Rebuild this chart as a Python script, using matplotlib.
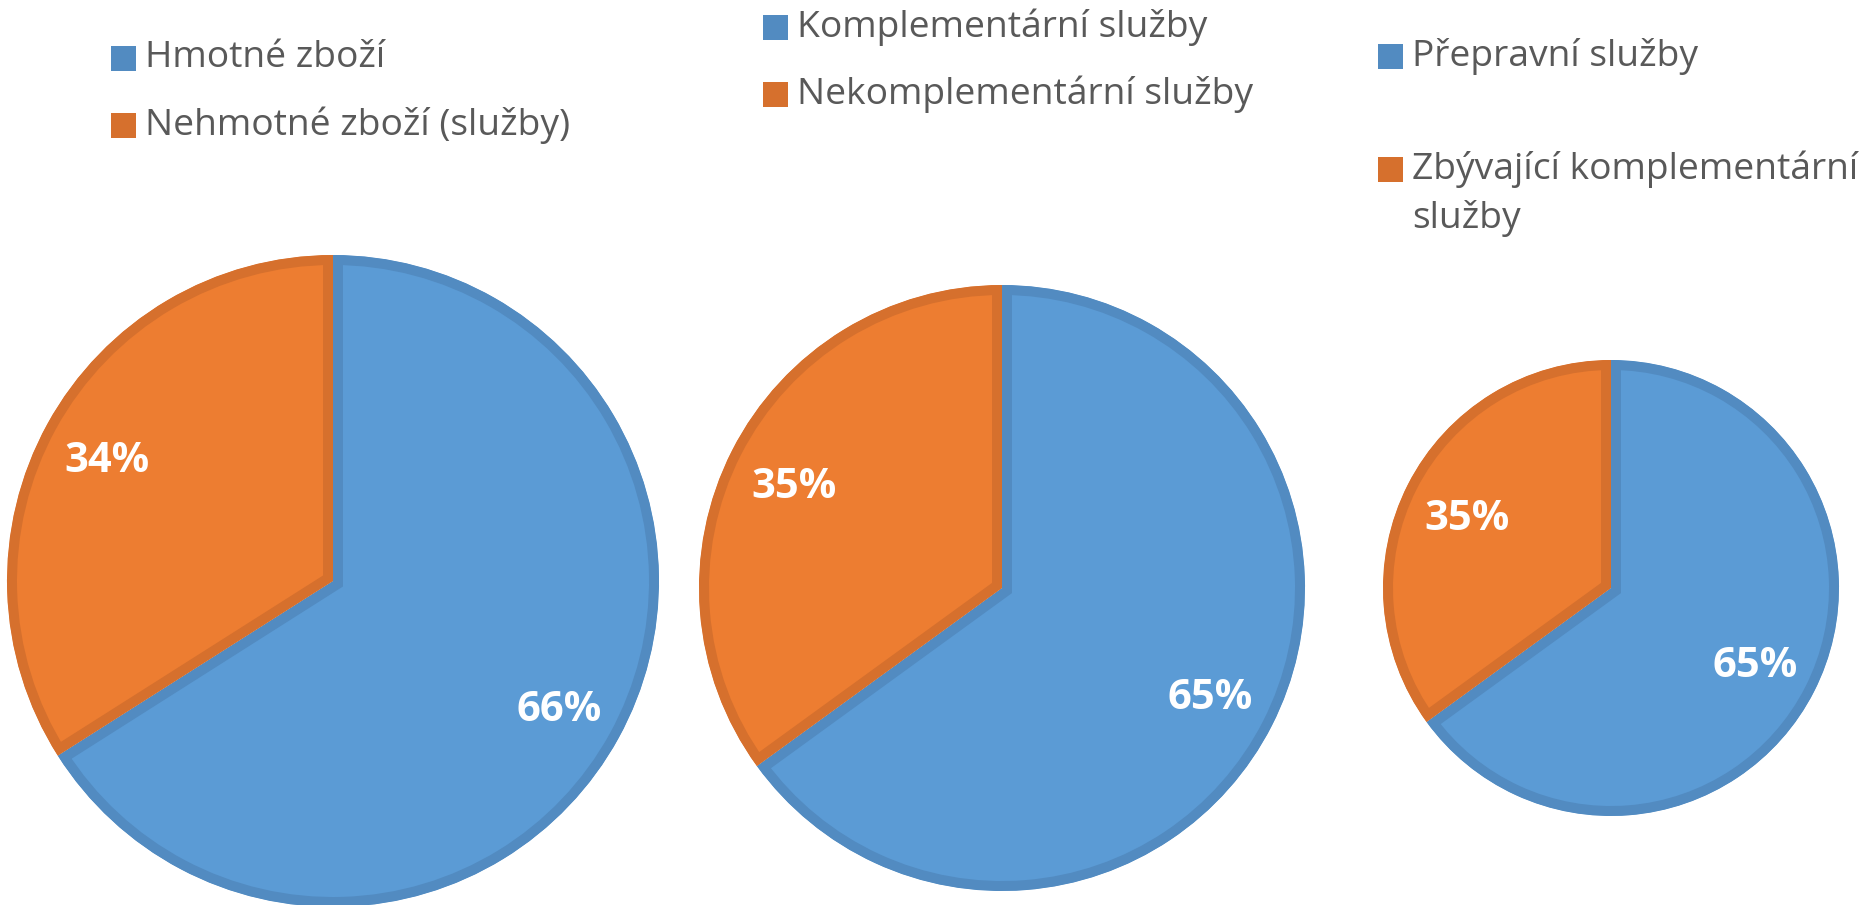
import matplotlib
matplotlib.use('Agg')
import matplotlib.pyplot as plt
from matplotlib.patches import Rectangle

plt.rcParams['font.family'] = ['Open Sans', 'DejaVu Sans']

# data: three pies, share in percent
pie1_labels = ['Hmotné zboží', 'Nehmotné zboží (služby)']
pie1_values = [66, 34]
pie2_labels = ['Komplementární služby', 'Nekomplementární služby']
pie2_values = [65, 35]
pie3_labels = ['Přepravní služby', 'Zbývající komplementární\nslužby']
pie3_values = [65, 35]

fill_colors = ['#5B9BD5', '#ED7D31']
edge_colors = ['#528BC1', '#D6702D']
text_grey = '#595959'

W, H = 1867, 905
fig = plt.figure(figsize=(W / 100, H / 100), dpi=100)
ax = fig.add_axes([0, 0, 1, 1])

# layout in pixels (y measured from top of the image)
pies = [
    (pie1_values, (333, 581), 326, 0.79),
    (pie2_values, (1002, 588), 303, 0.77),
    (pie3_values, (1611, 588), 228, 0.71),
]

for values, (cx, cy), r, pct_d in pies:
    wedges, _, autotexts = ax.pie(
        values, center=(cx, H - cy), radius=r,
        startangle=90, counterclock=False, colors=fill_colors,
        autopct='%1.0f%%', pctdistance=pct_d,
        wedgeprops=dict(linewidth=14.4),
        textprops=dict(color='white', fontweight='bold', fontsize=30))
    for w, ec in zip(wedges, edge_colors):
        # stroke only on the inside of each slice, like Excel
        w.set_edgecolor(ec)
        w.set_clip_on(True)
        w.set_clip_path(w)
    for t in autotexts:
        t.set_y(t.get_position()[1] - 5)

# legends (marker centre x, first row y, row step)
legends = [
    (pie1_labels, 123, 59, 67),
    (pie2_labels, 775, 28, 67),
    (pie3_labels, 1390, 57, 113),
]
msize = 25
for labels, mx, my, step in legends:
    for i, lab in enumerate(labels):
        y = H - (my + i * step)
        ax.add_patch(Rectangle((mx - msize / 2, y - msize / 2), msize, msize,
                               facecolor=edge_colors[i], edgecolor='none'))
        ax.text(mx + 22, y + 19, lab, ha='left', va='top', fontsize=26.8,
                color=text_grey, linespacing=1.41)

ax.set_xlim(0, W)
ax.set_ylim(0, H)
ax.set_aspect('equal')
ax.axis('off')

fig.savefig('out.png', dpi=100, facecolor='white')
